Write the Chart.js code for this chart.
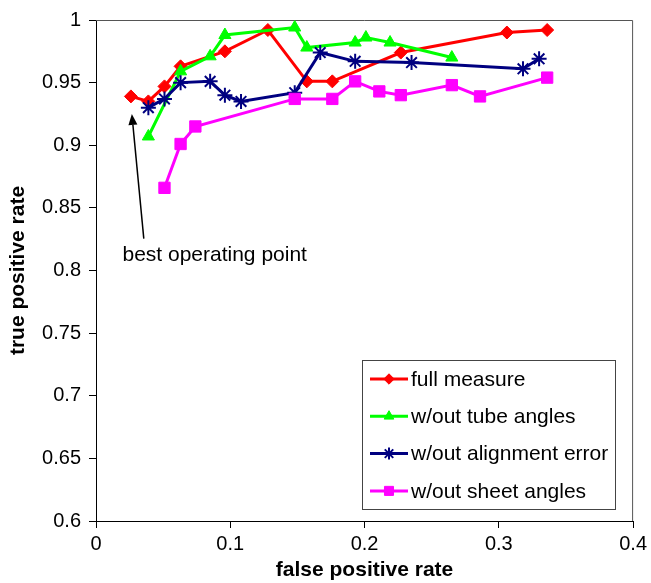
<!DOCTYPE html>
<html>
<head>
<meta charset="utf-8">
<script src="https://cdn.jsdelivr.net/npm/chart.js@4/dist/chart.umd.min.js"></script>
<style>
  html, body { margin: 0; padding: 0; background: #fff; }
  #wrap { position: relative; width: 651px; height: 583px; }
</style>
</head>
<body>
<div id="wrap"><canvas id="c" width="651" height="583"></canvas></div>
<script>
// ---- data ----
const seriesNames = ["full measure", "w/out tube angles", "w/out alignment error", "w/out sheet angles"];

const fullX = [0.026, 0.039, 0.051, 0.063, 0.096, 0.128, 0.157, 0.176, 0.227, 0.306, 0.336];
const fullY = [0.939, 0.935, 0.947, 0.963, 0.975, 0.992, 0.951, 0.951, 0.974, 0.990, 0.992];

const tubeX = [0.039, 0.063, 0.085, 0.096, 0.148, 0.157, 0.193, 0.201, 0.219, 0.265];
const tubeY = [0.907, 0.959, 0.971, 0.988, 0.994, 0.978, 0.982, 0.986, 0.982, 0.970];

const alignX = [0.039, 0.051, 0.063, 0.085, 0.096, 0.108, 0.148, 0.167, 0.193, 0.235, 0.318, 0.330];
const alignY = [0.930, 0.937, 0.950, 0.951, 0.940, 0.935, 0.942, 0.974, 0.967, 0.966, 0.961, 0.969];

const sheetX = [0.051, 0.063, 0.074, 0.148, 0.176, 0.193, 0.211, 0.227, 0.265, 0.286, 0.336];
const sheetY = [0.866, 0.901, 0.915, 0.937, 0.937, 0.951, 0.943, 0.940, 0.948, 0.939, 0.954];

const xMin = 0, xMax = 0.4, xStep = 0.1;
const yMin = 0.6, yMax = 1.0, yStep = 0.05;

const xTitle = "false positive rate";
const yTitle = "true positive rate";

// annotation: arrow tail / tip and label anchor, in data units
const annoText = "best operating point";
const annoTail = [0.0356, 0.8255];
const annoTip = [0.0267, 0.925];
const annoLabel = [0.0197, 0.812];

// ---- build ----
const FONT = "'Liberation Sans', Arial, sans-serif";
Chart.defaults.font.family = FONT;
Chart.defaults.color = "#000";

function pts(xs, ys) { return xs.map((x, i) => ({ x: x, y: ys[i] })); }

const styles = [
  { color: "#FF0000", pointStyle: "rectRot", radius: 6.5, bw: 1 },
  { color: "#00FF00", pointStyle: "triangle", radius: 7, bw: 1 },
  { color: "#000080", pointStyle: "star", radius: 7.5, bw: 2 },
  { color: "#FF00FF", pointStyle: "rect", radius: 8, bw: 1 }
];
const seriesData = [pts(fullX, fullY), pts(tubeX, tubeY), pts(alignX, alignY), pts(sheetX, sheetY)];

const datasets = seriesNames.map((name, i) => ({
  label: name,
  data: seriesData[i],
  showLine: true,
  borderColor: styles[i].color,
  backgroundColor: styles[i].color,
  borderWidth: 3,
  pointStyle: styles[i].pointStyle,
  pointRadius: styles[i].radius,
  pointHoverRadius: styles[i].radius,
  pointBorderWidth: styles[i].bw,
  pointBackgroundColor: styles[i].color,
  pointBorderColor: styles[i].color,
  tension: 0,
  order: seriesNames.length - i
}));

const framePlugin = {
  id: "frame",
  beforeDatasetsDraw(chart) {
    const { ctx, chartArea: a } = chart;
    ctx.save();
    ctx.strokeStyle = "#555";
    ctx.lineWidth = 1;
    ctx.beginPath();
    ctx.moveTo(a.left, a.top + 0.5);
    ctx.lineTo(a.right - 0.5, a.top + 0.5);
    ctx.lineTo(a.right - 0.5, a.bottom);
    ctx.stroke();
    ctx.restore();
  }
};

const annoPlugin = {
  id: "anno",
  afterDatasetsDraw(chart) {
    const { ctx, scales: { x, y } } = chart;
    const x0 = x.getPixelForValue(annoTail[0]), y0 = y.getPixelForValue(annoTail[1]);
    const x1 = x.getPixelForValue(annoTip[0]), y1 = y.getPixelForValue(annoTip[1]);
    const ang = Math.atan2(y1 - y0, x1 - x0);
    const hl = 11, hw = 4.5;
    ctx.save();
    ctx.strokeStyle = "#000";
    ctx.fillStyle = "#000";
    ctx.lineWidth = 1.5;
    ctx.beginPath();
    ctx.moveTo(x0, y0);
    ctx.lineTo(x1 - Math.cos(ang) * hl, y1 - Math.sin(ang) * hl);
    ctx.stroke();
    ctx.beginPath();
    ctx.moveTo(x1, y1);
    ctx.lineTo(x1 - Math.cos(ang) * hl - Math.sin(ang) * hw, y1 - Math.sin(ang) * hl + Math.cos(ang) * hw);
    ctx.lineTo(x1 - Math.cos(ang) * hl + Math.sin(ang) * hw, y1 - Math.sin(ang) * hl - Math.cos(ang) * hw);
    ctx.closePath();
    ctx.fill();
    ctx.font = "21px " + FONT;
    ctx.textBaseline = "middle";
    ctx.textAlign = "left";
    ctx.fillText(annoText, x.getPixelForValue(annoLabel[0]), y.getPixelForValue(annoLabel[1]));
    ctx.restore();
  }
};

const legendPlugin = {
  id: "boxLegend",
  afterDraw(chart) {
    const { ctx } = chart;
    const bx = 362, by = 360, bw = 253, bh = 149;
    ctx.save();
    ctx.fillStyle = "#fff";
    ctx.fillRect(bx, by, bw, bh);
    ctx.strokeStyle = "#444";
    ctx.lineWidth = 1;
    ctx.strokeRect(bx + 0.5, by + 0.5, bw, bh);
    chart.data.datasets.forEach((ds, i) => {
      const cy = by + 19 + i * 37.3;
      ctx.strokeStyle = ds.borderColor;
      ctx.lineWidth = 3;
      ctx.beginPath();
      ctx.moveTo(370, cy);
      ctx.lineTo(408, cy);
      ctx.stroke();
      ctx.fillStyle = ds.borderColor;
      ctx.strokeStyle = ds.borderColor;
      ctx.lineWidth = ds.pointBorderWidth;
      Chart.helpers.drawPoint(ctx, {
        pointStyle: ds.pointStyle,
        radius: ds.pointRadius * 0.8,
        rotation: 0,
        borderWidth: ds.pointBorderWidth
      }, 389, cy);
      ctx.fillStyle = "#000";
      ctx.font = "21px " + FONT;
      ctx.textBaseline = "middle";
      ctx.textAlign = "left";
      ctx.fillText(ds.label, 411, cy + 1);
    });
    ctx.restore();
  }
};

function fmt(v) { return String(Number(v.toFixed(2))); }

new Chart(document.getElementById("c"), {
  type: "scatter",
  data: { datasets: datasets },
  plugins: [framePlugin, annoPlugin, legendPlugin],
  options: {
    responsive: false,
    animation: false,
    layout: { padding: { top: 19, right: 16, bottom: 0, left: 0 } },
    plugins: { legend: { display: false }, tooltip: { enabled: false } },
    scales: {
      x: {
        type: "linear",
        min: xMin, max: xMax,
        afterFit(s) { s.height = 62; },
        ticks: { stepSize: xStep, font: { size: 20 }, padding: 4, callback: fmt, maxRotation: 0 },
        grid: { drawOnChartArea: false, drawTicks: true, tickLength: 7, color: "#000" },
        border: { display: true, color: "#000", width: 1 },
        title: { display: true, text: xTitle, font: { size: 21, weight: "bold" }, padding: { top: 0, bottom: 0 } }
      },
      y: {
        type: "linear",
        min: yMin, max: yMax,
        afterFit(s) { s.width = 96; },
        ticks: { stepSize: yStep, font: { size: 20 }, padding: 8, callback: fmt },
        grid: { drawOnChartArea: false, drawTicks: true, tickLength: 7, color: "#000" },
        border: { display: true, color: "#000", width: 1 },
        title: { display: true, text: yTitle, font: { size: 21, weight: "bold" }, padding: { top: 6, bottom: 0 } }
      }
    }
  }
});
</script>
</body>
</html>
